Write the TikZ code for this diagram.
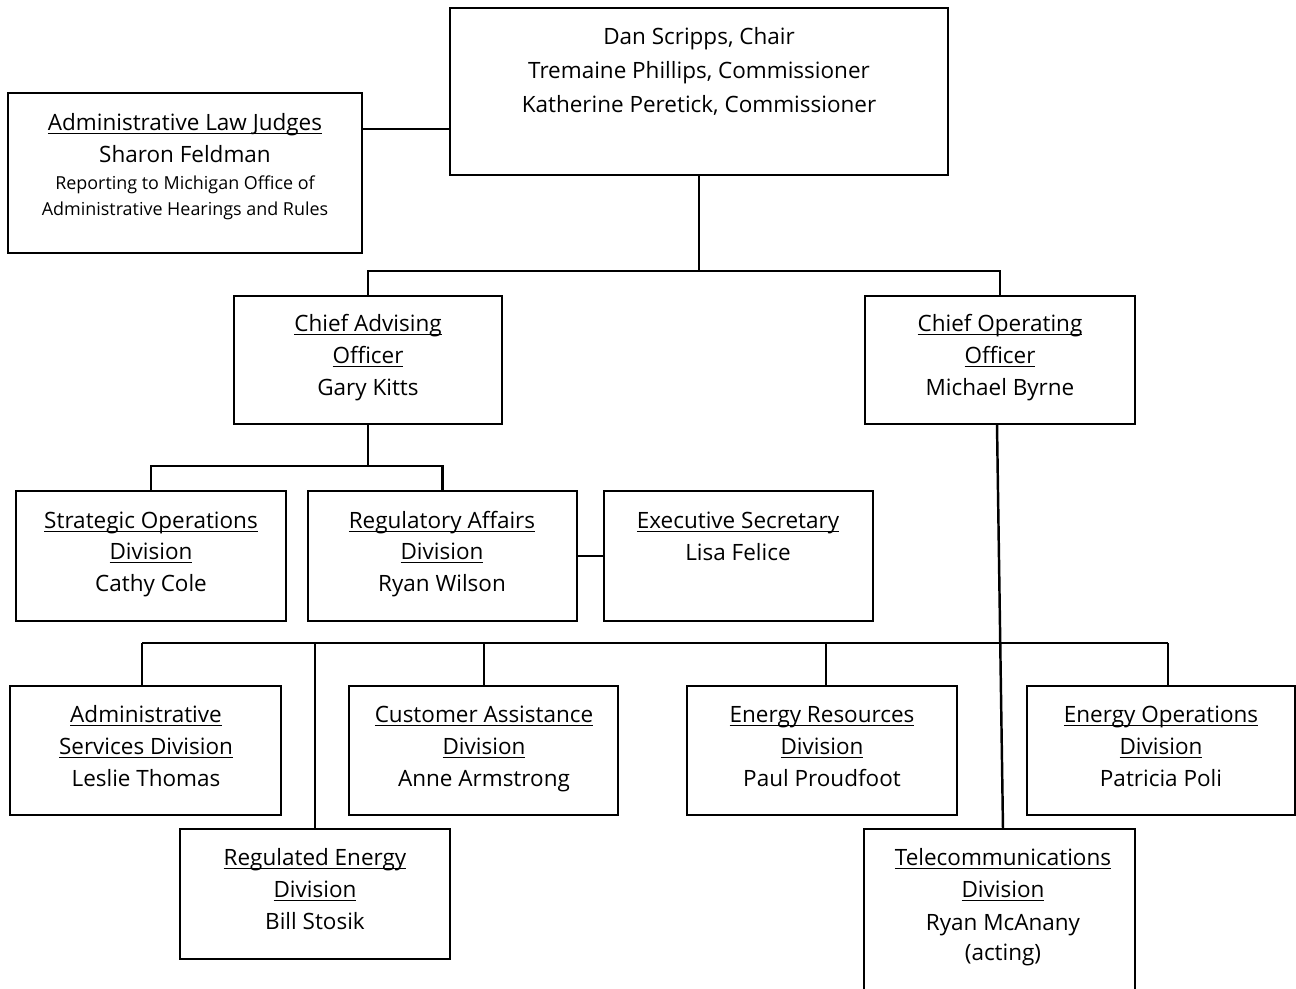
\documentclass[tikz,border=0pt]{standalone}
\usepackage{fontspec}
\setmainfont{Open Sans}
\newcommand\ulx[1]{\setbox0\hbox{#1}\rlap{\rule[-1.7pt]{\wd0}{0.8pt}}\box0}
\newcommand\tl[4]{\node[txt,anchor=base] (#1) at (#2,#3) {#4};}
\newcommand\ts[4]{\node[txts,anchor=base] (#1) at (#2,#3) {#4};}
\newcommand\bx[5]{\node[box,minimum width={(#4-#2)*0.02cm},minimum height={(#5-#3)*0.02cm},anchor=north west] (#1) at (#2,#3) {};}
\tikzset{
  box/.style={draw,line width=1.4pt,inner sep=0pt,outer sep=0pt,rectangle},
  txt/.style={inner sep=0pt,font=\fontsize{12.8}{15}\selectfont},
  txts/.style={inner sep=0pt,font=\fontsize{10.2}{12}\selectfont},
  conn/.style={line width=1.4pt,line join=miter}
}
\begin{document}
\begin{tikzpicture}[x=0.02cm,y=-0.02cm]
\useasboundingbox (0,0) rectangle (1296,989);
\clip (0,0) rectangle (1296,989);
% boxes
\bx{top}{450}{8}{948}{175}
\bx{alj}{8}{93}{362}{253}
\bx{cao}{234}{296}{502}{424}
\bx{coo}{865}{296}{1135}{424}
\bx{sod}{16}{491}{286}{621}
\bx{rad}{308}{491}{577}{621}
\bx{es}{604}{491}{873}{621}
\bx{asd}{10}{686}{281}{815}
\bx{cad}{349}{686}{618}{815}
\bx{erd}{687}{686}{957}{815}
\bx{eod}{1027}{686}{1295}{815}
\bx{red}{180}{829}{450}{959}
\bx{tel}{864}{829}{1135}{1010}
% texts
\tl{top1}{699}{45}{Dan Scripps, Chair}
\tl{top2}{699}{79}{Tremaine Phillips, Commissioner}
\tl{top3}{699}{113}{Katherine Peretick, Commissioner}
\tl{alj1}{185}{131}{\ulx{Administrative Law Judges}}
\tl{alj2}{185}{163}{Sharon Feldman}
\ts{alj3}{185}{190}{Reporting to Michigan Office of}
\ts{alj4}{185}{216}{Administrative Hearings and Rules}
\tl{cao1}{368}{332}{\ulx{Chief Advising}}
\tl{cao2}{368}{364}{\ulx{Officer}}
\tl{cao3}{368}{396}{Gary Kitts}
\tl{coo1}{1000}{332}{\ulx{Chief Operating}}
\tl{coo2}{1000}{364}{\ulx{Officer}}
\tl{coo3}{1000}{396}{Michael Byrne}
\tl{sod1}{151}{529}{\ulx{Strategic Operations}}
\tl{sod2}{151}{560}{\ulx{Division}}
\tl{sod3}{151}{592}{Cathy Cole}
\tl{rad1}{442}{529}{\ulx{Regulatory Affairs}}
\tl{rad2}{442}{560}{\ulx{Division}}
\tl{rad3}{442}{592}{Ryan Wilson}
\tl{es1}{738}{529}{\ulx{Executive Secretary}}
\tl{es2}{738}{561}{Lisa Felice}
\tl{asd1}{146}{723}{\ulx{Administrative}}
\tl{asd2}{146}{755}{\ulx{Services Division}}
\tl{asd3}{146}{787}{Leslie Thomas}
\tl{cad1}{484}{723}{\ulx{Customer Assistance}}
\tl{cad2}{484}{755}{\ulx{Division}}
\tl{cad3}{484}{787}{Anne Armstrong}
\tl{erd1}{822}{723}{\ulx{Energy Resources}}
\tl{erd2}{822}{755}{\ulx{Division}}
\tl{erd3}{822}{787}{Paul Proudfoot}
\tl{eod1}{1161}{723}{\ulx{Energy Operations}}
\tl{eod2}{1161}{755}{\ulx{Division}}
\tl{eod3}{1161}{787}{Patricia Poli}
\tl{red1}{315}{866}{\ulx{Regulated Energy}}
\tl{red2}{315}{898}{\ulx{Division}}
\tl{red3}{315}{929}{Bill Stosik}
\tl{tel1}{1003}{866}{\ulx{Telecommunications}}
\tl{tel2}{1003}{898}{\ulx{Division}}
\tl{tel3}{1003}{930}{Ryan McAnany}
\tl{tel4}{1003}{961}{(acting)}
% connectors
\coordinate (j1) at (362,129);
\draw[conn] (alj.east |- j1) -- (top.west |- j1);
\coordinate (b1) at (699,271);
\draw[conn] (top.south) -- (b1);
\draw[conn] (cao.north) |- (b1) -| (coo.north);
\coordinate (b2) at (368,466);
\draw[conn] (cao.south) -- (b2);
\draw[conn] (sod.north) |- (b2) -| (rad.north);
\draw[conn] (rad.east) -- (es.west);
\coordinate (c1) at (997,0);
\coordinate (c2) at (1003,0);
\draw[conn] (coo.south -| c1) -- (tel.north -| c2);
\coordinate (d1) at (142,643);
\coordinate (d2) at (315,643);
\coordinate (d3) at (484,643);
\coordinate (d4) at (826,643);
\coordinate (d5) at (1168,643);
\draw[conn] (d1) -- (d5);
\draw[conn] (d1) -- (d1 |- asd.north);
\draw[conn] (d2) -- (red.north);
\draw[conn] (d3) -- (d3 |- cad.north);
\draw[conn] (d4) -- (d4 |- erd.north);
\draw[conn] (d5) -- (d5 |- eod.north);
\end{tikzpicture}
\end{document}
